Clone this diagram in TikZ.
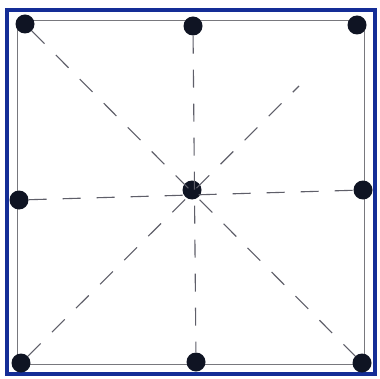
\documentclass[tikz,border=0pt]{standalone}
\begin{document}
\begin{tikzpicture}[x=1pt,y=-1pt,
  dotnode/.style={circle,fill={rgb,255:red,15;green,20;blue,35},inner sep=0pt,minimum size=19pt},
  dashline/.style={draw={rgb,255:red,95;green,95;blue,105},line width=1.1pt,dash pattern=on 18pt off 16pt},
  frameline/.style={draw={rgb,255:red,20;green,45;blue,150},line width=3.6pt},
  innerline/.style={draw={rgb,255:red,120;green,120;blue,125},line width=0.9pt}]
\useasboundingbox (0,0) rectangle (379,379);
\fill[white] (0,0) rectangle (379,379);
\draw[frameline] (7,10) rectangle (375,374);
\draw[innerline] (17,20) rectangle (364,364);
\node[dotnode] (tl) at (25,24) {};
\node[dotnode] (tm) at (193,26) {};
\node[dotnode] (tr) at (357,25) {};
\node[dotnode] (ml) at (19,200) {};
\node[dotnode] (c) at (192,190) {};
\node[dotnode] (mr) at (363,190) {};
\node[dotnode] (bl) at (21,363) {};
\node[dotnode] (bm) at (196,362) {};
\node[dotnode] (br) at (362,363) {};
\coordinate (ae) at (299,86);
\draw[dashline] (tl) -- (br);
\draw[dashline] (tm) -- (bm);
\draw[dashline] (ml) -- (mr);
\draw[dashline] (bl) -- (ae);
\end{tikzpicture}
\end{document}
